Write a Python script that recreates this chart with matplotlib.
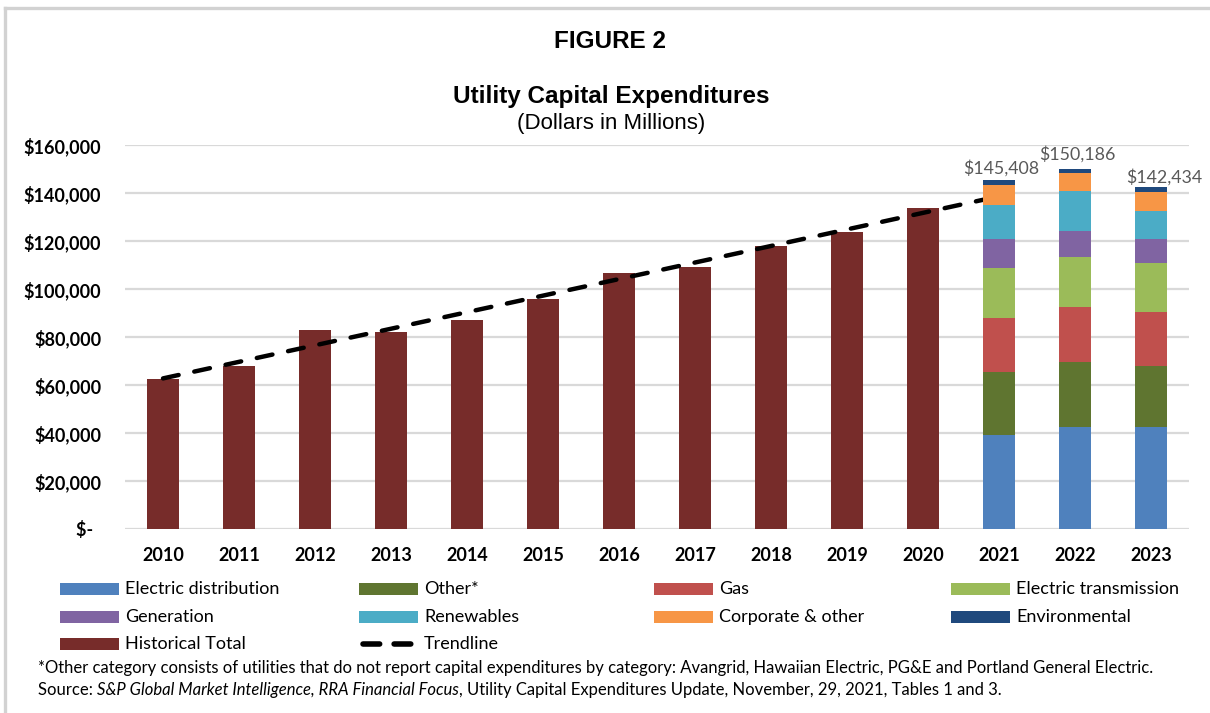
import numpy as np
import matplotlib
matplotlib.use("Agg")
import matplotlib.pyplot as plt
from matplotlib.patches import Rectangle
from matplotlib.lines import Line2D
from matplotlib.ticker import FixedLocator, FuncFormatter

# ---------------------------------------------------------------- data
years = ["2010", "2011", "2012", "2013", "2014", "2015", "2016",
         "2017", "2018", "2019", "2020", "2021", "2022", "2023"]
hist_years = years[:11]
forecast_years = years[11:]

historical_total = [62400, 67900, 82900, 82200, 87100, 95800,
                    106700, 109200, 117900, 123800, 133700]

electric_distribution = [39200, 42600, 42400]
other = [26100, 27100, 25700]
gas = [22700, 22900, 22200]
electric_transmission = [20700, 20900, 20400]
generation = [12000, 10700, 10100]
renewables = [14100, 16500, 11800]
corporate_other = [8700, 7500, 7700]
environmental = [1908, 1986, 2134]

y_ticks = [0, 20000, 40000, 60000, 80000, 100000, 120000, 140000, 160000]

# ---------------------------------------------------------------- styles
W, H = 1210, 713
BODY = "Lato"
HEAD = "Liberation Sans"

segments = [
    ("Electric distribution", electric_distribution, "#4F81BD"),
    ("Other*", other, "#5F7530"),
    ("Gas", gas, "#C0504D"),
    ("Electric transmission", electric_transmission, "#9BBB59"),
    ("Generation", generation, "#8064A2"),
    ("Renewables", renewables, "#4BACC6"),
    ("Corporate & other", corporate_other, "#F79646"),
    ("Environmental", environmental, "#1F497D"),
]
HIST_COLOR = "#772C2A"
GRID_COLOR = "#D9D9D9"
BAR_WIDTH = 0.41
TREND_LW = 3.2
TREND_DASH = (3.6, 3.6)


def fx(px):
    return px / W


def fy(py):
    return 1 - py / H


fig = plt.figure(figsize=(W / 100, H / 100), dpi=100)
fig.patch.set_facecolor("white")

ax = fig.add_axes([fx(125), fy(529), fx(1189) - fx(125), fy(145) - fy(529)])

x_all = np.arange(len(years))
x_hist = x_all[:len(hist_years)]
x_fc = x_all[len(hist_years):]

# historical bars
ax.bar(x_hist, historical_total, width=BAR_WIDTH, color=HIST_COLOR, zorder=2)

# linear trend fitted to the historical totals, projected one year ahead
coef = np.polyfit(x_hist, historical_total, 1)
x_trend = np.arange(len(hist_years) + 1)
ax.plot(x_trend, np.polyval(coef, x_trend), color="black", lw=TREND_LW,
        dashes=TREND_DASH, dash_capstyle="round", zorder=3)

# stacked forecast bars
bottom = np.zeros(len(forecast_years))
for name, vals, col in segments:
    ax.bar(x_fc, vals, width=BAR_WIDTH, bottom=bottom, color=col, zorder=4)
    bottom = bottom + np.asarray(vals)

# total labels above the stacks
label_dx = [2, 2, 13]
label_dy = [3, 6, 2]
for xi, tot, dx, dy in zip(x_fc, bottom, label_dx, label_dy):
    ax.annotate(f"${int(tot):,}", (xi, tot), xytext=(dx, dy),
                textcoords="offset pixels", ha="center", va="bottom",
                fontsize=12.8, family=BODY, color="#595959", zorder=5)

# axes styling
ax.set_xlim(-0.5, len(years) - 0.5)
ax.set_ylim(0, 160000)
ax.set_xticks(x_all)
ax.set_xticklabels(years)
ax.yaxis.set_major_locator(FixedLocator(y_ticks))
ax.yaxis.set_major_formatter(
    FuncFormatter(lambda v, p: "$-  " if v == 0 else f"${v:,.0f}"))
for s in ax.spines.values():
    s.set_visible(False)
ax.yaxis.grid(True, color=GRID_COLOR, lw=1.6, zorder=0)
ax.set_axisbelow(True)
ax.tick_params(axis="both", length=0)
ax.tick_params(axis="y", pad=17)
ax.tick_params(axis="x", pad=13)
for lab in ax.get_xticklabels() + ax.get_yticklabels():
    lab.set_fontfamily(BODY)
    lab.set_fontweight("bold")
    lab.set_fontsize(13)
    lab.set_color("#000000")

# titles
fig.text(fx(610), fy(41), "FIGURE 2", ha="center", va="center",
         family=HEAD, fontweight="bold", fontsize=17.5)
fig.text(fx(611), fy(97), "Utility Capital Expenditures", ha="center",
         va="center", family=HEAD, fontweight="bold", fontsize=17.5)
fig.text(fx(611), fy(123), "(Dollars in Millions)", ha="center",
         va="center", family=HEAD, fontsize=16)

# legend laid out in four fixed-width columns
col_x = [60, 359, 654, 951]
row_y = [589, 617, 644]
patch_w, patch_h = 59, 12
entries = [(n, c) for n, _, c in segments] + [("Historical Total", HIST_COLOR),
                                               ("Trendline", None)]
for i, (name, col) in enumerate(entries):
    cx = col_x[i % 4]
    cy = row_y[i // 4]
    if col is not None:
        fig.add_artist(Rectangle((fx(cx), fy(cy + patch_h / 2)),
                                 patch_w / W, patch_h / H,
                                 transform=fig.transFigure,
                                 facecolor=col, edgecolor="none"))
    else:
        fig.add_artist(Line2D([fx(cx + 4), fx(cx + patch_w - 4)],
                              [fy(cy), fy(cy)], transform=fig.transFigure,
                              color="black", lw=TREND_LW + 0.8,
                              dashes=(3.0, 2.6), dash_capstyle="round"))
    fig.text(fx(cx + 65), fy(cy), name, ha="left", va="center",
             family=BODY, fontsize=13)

# footnotes
fig.text(fx(38), fy(668),
         "*Other category consists of utilities that do not report capital "
         "expenditures by category: Avangrid, Hawaiian Electric, PG&E and "
         "Portland General Electric.",
         ha="left", va="center", family=BODY, fontsize=12)

renderer = fig.canvas.get_renderer()
pieces = [("Source: ", "normal"),
          ("S&P Global Market Intelligence, RRA Financial Focus", "italic"),
          (", Utility Capital Expenditures Update, November, 29, 2021, "
           "Tables 1 and 3.", "normal")]
cur_x = fx(38)
for txt, style in pieces:
    t = fig.text(cur_x, fy(690), txt, ha="left", va="center", family=BODY,
                 fontsize=12, style=style)
    bb = t.get_window_extent(renderer)
    cur_x = bb.x1 / W

# frame edges along the top and left
fig.add_artist(Line2D([fx(5), 1], [fy(8), fy(8)], transform=fig.transFigure,
                      color="#D2D2D2", lw=2.4))
fig.add_artist(Line2D([fx(5), fx(5)], [fy(8), 0], transform=fig.transFigure,
                      color="#D2D2D2", lw=2.4))

fig.savefig("out.png", dpi=100, facecolor="white")
